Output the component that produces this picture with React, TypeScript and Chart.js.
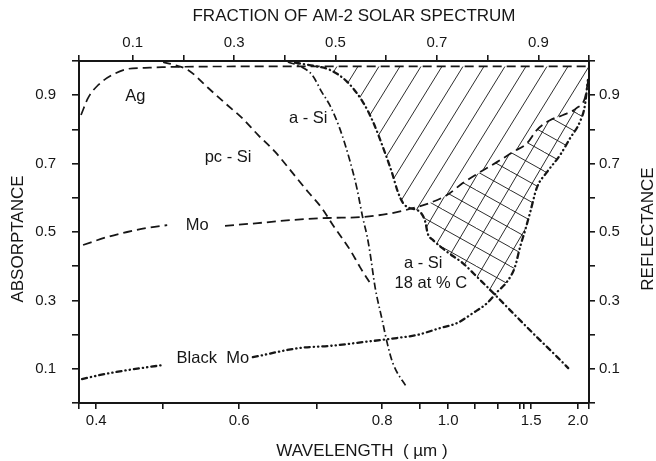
import React, { useEffect, useRef } from 'react';
import { Chart, registerables } from 'chart.js';

Chart.register(...registerables);

// Horizontal position is the fraction of the AM-2 solar spectrum (linear, top axis).
// The bottom axis shows the corresponding wavelength (µm) at those positions.

const fractionTicks = [-0.006, 0.1, 0.2, 0.3, 0.4, 0.5, 0.6, 0.7, 0.8, 0.9, 1.0];
const fractionLabels = ['', '0.1', '', '0.3', '', '0.5', '', '0.7', '', '0.9', ''];

const wavelengthTickPos = [-0.006, 0.028, 0.16, 0.31, 0.464, 0.592, 0.667, 0.722, 0.775, 0.821, 0.864, 0.872, 0.886, 0.978, 1.0];
const wavelengthLabels = ['', '0.4', '', '0.6', '', '0.8', '', '1.0', '', '', '', '', '1.5', '2.0', ''];

const valueTicks = [0, 0.1, 0.2, 0.3, 0.4, 0.5, 0.6, 0.7, 0.8, 0.9, 1.0];
const valueLabels = ['', '0.1', '', '0.3', '', '0.5', '', '0.7', '', '0.9', ''];

// Ag
const agX = [-0.002, 0.012, 0.032, 0.059, 0.091, 0.124, 0.158, 0.3, 0.5, 0.7, 0.9, 1.0];
const agY = [0.842, 0.892, 0.93, 0.959, 0.977, 0.98, 0.982, 0.984, 0.984, 0.984, 0.984, 0.984];

// pc-Si
const pcSiX = [0.16, 0.183, 0.209, 0.249, 0.282, 0.316, 0.347, 0.381, 0.414, 0.446, 0.473, 0.495, 0.529, 0.548, 0.568];
const pcSiY = [0.997, 0.988, 0.974, 0.921, 0.877, 0.833, 0.784, 0.734, 0.675, 0.617, 0.57, 0.52, 0.447, 0.398, 0.351];

// a-Si
const aSiX = [0.406, 0.434, 0.454, 0.473, 0.489, 0.509, 0.529, 0.542, 0.554, 0.562, 0.568, 0.578, 0.592, 0.602, 0.613, 0.641];
const aSiY = [0.997, 0.982, 0.959, 0.909, 0.87, 0.8, 0.705, 0.629, 0.54, 0.49, 0.44, 0.339, 0.243, 0.175, 0.117, 0.044];

// a-Si 18 at % C
const aSiCX = [0.42, 0.46, 0.489, 0.523, 0.554, 0.574, 0.594, 0.611, 0.623, 0.633, 0.643, 0.657, 0.669, 0.677, 0.682, 0.692, 0.72, 0.751, 0.785, 0.811, 0.85, 0.897, 0.937, 0.959];
const aSiCY = [0.995, 0.985, 0.974, 0.939, 0.88, 0.822, 0.746, 0.675, 0.617, 0.585, 0.572, 0.566, 0.555, 0.53, 0.495, 0.477, 0.442, 0.409, 0.36, 0.322, 0.263, 0.193, 0.135, 0.102];

// Mo (null = gap for the label)
const moX = [0.002, 0.049, 0.089, 0.128, 0.168, 0.225, 0.282, 0.347, 0.414, 0.485, 0.554, 0.621, 0.653, 0.686, 0.72, 0.751, 0.785, 0.819, 0.85, 0.878, 0.897, 0.923, 0.949, 0.976, 0.992, 0.998];
const moY = [0.462, 0.485, 0.5, 0.512, 0.52, null, 0.518, 0.526, 0.535, 0.541, 0.544, 0.558, 0.57, 0.585, 0.608, 0.643, 0.675, 0.705, 0.734, 0.76, 0.798, 0.827, 0.842, 0.863, 0.892, 0.939];

// Black Mo (null = gap for the label)
const bMoX = [0.0, 0.036, 0.089, 0.16, 0.25, 0.337, 0.43, 0.489, 0.554, 0.621, 0.661, 0.706, 0.74, 0.771, 0.799, 0.819, 0.838, 0.854, 0.864, 0.874, 0.884, 0.897, 0.917, 0.943, 0.963, 0.982, 0.992, 0.996, 0.998];
const bMoY = [0.07, 0.082, 0.096, 0.111, null, 0.134, 0.161, 0.167, 0.178, 0.19, 0.199, 0.219, 0.234, 0.263, 0.292, 0.325, 0.354, 0.398, 0.456, 0.505, 0.558, 0.629, 0.675, 0.725, 0.775, 0.822, 0.871, 0.921, 0.945];

// Region boundaries (fractions where curves meet)
const diagStart = 0.489; // hatched region starts where a-Si C leaves the top
const moJoin = 0.653; // a-Si C meets Mo
const crossJoin = 0.817; // a-Si C crosses Black Mo

// In-plot labels
const curveLabels = ['Ag', 'pc - Si', 'a - Si', 'Mo', 'Black  Mo', 'a - Si', '18 at % C'];
const curveLabelX = [0.105, 0.288, 0.446, 0.227, 0.258, 0.673, 0.688];
const curveLabelY = [0.895, 0.719, 0.833, 0.52, 0.129, 0.409, 0.351];

const INK = '#161616';
const FONT = '"Liberation Sans", Arial, Helvetica, sans-serif';

type P = { x: number; y: number | null };
const pts = (xs: number[], ys: (number | null)[]): P[] => xs.map((x, i) => ({ x, y: ys[i] }));

function makeHatch(w: number, h: number, dir: 'up' | 'down'): CanvasPattern | string {
  const c = document.createElement('canvas');
  c.width = w;
  c.height = h;
  const g = c.getContext('2d');
  if (!g) return 'transparent';
  g.strokeStyle = INK;
  g.lineWidth = 0.9;
  g.beginPath();
  if (dir === 'up') {
    for (let k = 0; k <= 2; k++) {
      g.moveTo(k * w - w, h);
      g.lineTo(k * w + w, -h);
    }
  } else {
    for (let k = -1; k <= 1; k++) {
      g.moveTo(k * w - w, -h);
      g.lineTo(k * w + w, h);
    }
  }
  g.stroke();
  return g.createPattern(c, 'repeat') || 'transparent';
}

export default function App() {
  const ref = useRef<HTMLCanvasElement>(null);

  useEffect(() => {
    const canvas = ref.current;
    if (!canvas) return;

    const ag = pts(agX, agY);
    const pcSi = pts(pcSiX, pcSiY);
    const aSi = pts(aSiX, aSiY);
    const aSiC = pts(aSiCX, aSiCY);
    const mo = pts(moX, moY);
    const bMo = pts(bMoX, bMoY);

    const diagLower = [
      ...aSiC.filter((p) => p.x >= diagStart && p.x <= moJoin),
      ...mo.filter((p) => p.x >= moJoin && p.y !== null),
    ];
    const crossUpper = mo.filter((p) => p.x >= moJoin && p.y !== null);
    const crossLower = [
      ...aSiC.filter((p) => p.x >= moJoin && p.x <= crossJoin),
      ...bMo.filter((p) => p.x > crossJoin && p.y !== null),
    ];

    const diagPattern = makeHatch(21, 34, 'up');
    const crossA = makeHatch(20, 34, 'up');
    const crossB = makeHatch(34, 19, 'down');

    const base = {
      borderColor: INK,
      pointRadius: 0,
      pointHoverRadius: 0,
      cubicInterpolationMode: 'monotone' as const,
      spanGaps: false,
      fill: false as any,
      backgroundColor: 'transparent' as any,
    };

    // indices: 0 Ag, 1 pcSi, 2 aSi, 3 aSiC, 4 Mo, 5 BlackMo, 6 crossUpper2, 7 diagLower, 8 crossLower
    const datasets: any[] = [
      { ...base, label: 'Ag', data: ag, borderWidth: 1.7, borderDash: [9, 5], fill: { target: 7 }, backgroundColor: diagPattern },
      { ...base, label: 'pc-Si', data: pcSi, borderWidth: 1.8, borderDash: [8, 5] },
      { ...base, label: 'a-Si', data: aSi, borderWidth: 1.7, borderDash: [7, 3, 1.5, 3] },
      { ...base, label: 'a-Si 18 at % C', data: aSiC, borderWidth: 2.3, borderDash: [5, 4, 0.3, 4], borderCapStyle: 'round' },
      { ...base, label: 'Mo', data: mo, borderWidth: 1.8, borderDash: [9, 5], fill: { target: 8 }, backgroundColor: crossA },
      { ...base, label: 'Black Mo', data: bMo, borderWidth: 2.3, borderDash: [5, 4, 0.3, 4, 0.3, 4], borderCapStyle: 'round' },
      { ...base, label: 'cross2', data: crossUpper, borderWidth: 0, borderColor: 'transparent', fill: { target: 8 }, backgroundColor: crossB },
      { ...base, label: 'diagLower', data: diagLower, borderWidth: 0, borderColor: 'transparent' },
      { ...base, label: 'crossLower', data: crossLower, borderWidth: 0, borderColor: 'transparent' },
    ];

    const tickFont = { family: FONT, size: 15 };
    const gridCommon = {
      drawOnChartArea: false,
      drawTicks: true,
      tickLength: 7,
      color: INK,
      lineWidth: 1.6,
    };
    const borderCommon = { display: true, color: INK, width: 2 };

    const annot = {
      id: 'annot',
      afterDatasetsDraw(chart: any) {
        const { ctx, scales, chartArea } = chart;
        const xs = scales.x;
        const ys = scales.y;
        ctx.save();
        ctx.fillStyle = INK;
        ctx.textAlign = 'center';
        ctx.textBaseline = 'middle';
        ctx.font = `16.5px ${FONT}`;
        curveLabels.forEach((t, i) => {
          ctx.fillText(t, xs.getPixelForValue(curveLabelX[i]), ys.getPixelForValue(curveLabelY[i]));
        });
        ctx.font = `17px ${FONT}`;
        const midX = (chartArea.left + chartArea.right) / 2;
        ctx.fillText('FRACTION OF AM-2 SOLAR SPECTRUM', midX + 20, 16);
        ctx.fillText('WAVELENGTH  ( µm )', midX + 28, 451);
        const midY = (chartArea.top + chartArea.bottom) / 2;
        ctx.translate(18, midY + 7);
        ctx.rotate(-Math.PI / 2);
        ctx.fillText('ABSORPTANCE', 0, 0);
        ctx.restore();
        ctx.save();
        ctx.fillStyle = INK;
        ctx.textAlign = 'center';
        ctx.textBaseline = 'middle';
        ctx.font = `17px ${FONT}`;
        ctx.translate(648, midY - 3);
        ctx.rotate(-Math.PI / 2);
        ctx.fillText('REFLECTANCE', 0, 0);
        ctx.restore();
      },
    };

    const chart = new Chart(canvas, {
      type: 'line',
      data: { datasets },
      plugins: [annot],
      options: {
        animation: false,
        responsive: false,
        maintainAspectRatio: false,
        devicePixelRatio: 1,
        layout: { padding: 0 },
        plugins: {
          legend: { display: false },
          tooltip: { enabled: false },
          filler: { propagate: false },
        },
        events: [],
        scales: {
          x: {
            type: 'linear',
            position: 'bottom',
            min: -0.006,
            max: 1.0,
            grid: { ...gridCommon, tickLength: 6 },
            border: borderCommon,
            ticks: {
              font: tickFont,
              color: INK,
              padding: 3,
              autoSkip: false,
              maxRotation: 0,
              callback: (_v: any, i: number) => wavelengthLabels[i] ?? '',
            },
            afterBuildTicks: (s: any) => {
              s.ticks = wavelengthTickPos.map((v) => ({ value: v }));
            },
            afterFit: (s: any) => {
              s.height = 58;
            },
          },
          x2: {
            type: 'linear',
            position: 'top',
            min: -0.006,
            max: 1.0,
            grid: { ...gridCommon, tickLength: 6 },
            border: borderCommon,
            ticks: {
              font: tickFont,
              color: INK,
              padding: 3,
              autoSkip: false,
              maxRotation: 0,
              callback: (_v: any, i: number) => fractionLabels[i] ?? '',
            },
            afterBuildTicks: (s: any) => {
              s.ticks = fractionTicks.map((v) => ({ value: v }));
            },
            afterFit: (s: any) => {
              s.height = 61;
            },
          },
          y: {
            type: 'linear',
            position: 'left',
            min: 0,
            max: 1,
            grid: gridCommon,
            border: borderCommon,
            ticks: {
              font: tickFont,
              color: INK,
              padding: 16,
              autoSkip: false,
              callback: (_v: any, i: number) => valueLabels[i] ?? '',
            },
            afterBuildTicks: (s: any) => {
              s.ticks = valueTicks.map((v) => ({ value: v }));
            },
            afterFit: (s: any) => {
              s.width = 79;
            },
          },
          y2: {
            type: 'linear',
            position: 'right',
            min: 0,
            max: 1,
            grid: { ...gridCommon, tickLength: 6 },
            border: borderCommon,
            ticks: {
              font: tickFont,
              color: INK,
              padding: 4,
              autoSkip: false,
              callback: (_v: any, i: number) => valueLabels[i] ?? '',
            },
            afterBuildTicks: (s: any) => {
              s.ticks = valueTicks.map((v) => ({ value: v }));
            },
            afterFit: (s: any) => {
              s.width = 67;
            },
          },
        },
      } as any,
    });

    return () => chart.destroy();
  }, []);

  return (
    <div style={{ position: 'absolute', left: 0, top: 0, width: 656, height: 461, background: '#fff' }}>
      <canvas ref={ref} width={656} height={461} style={{ display: 'block', width: 656, height: 461 }} />
    </div>
  );
}
